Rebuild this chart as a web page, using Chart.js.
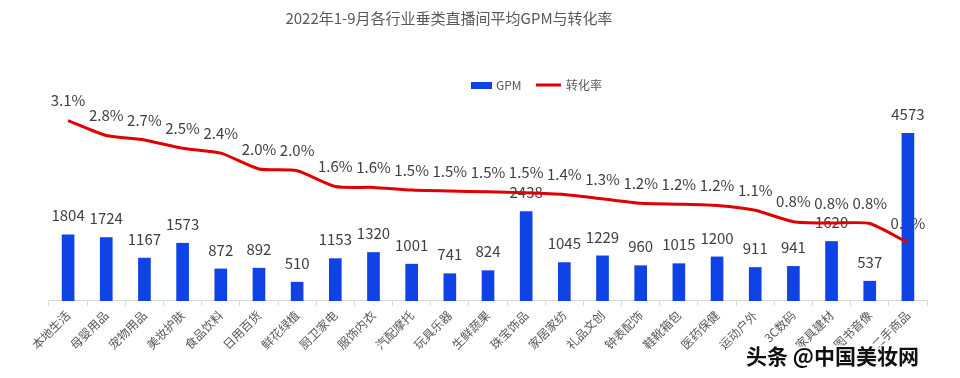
<!DOCTYPE html>
<html>
<head>
<meta charset="utf-8">
<script src="https://cdn.jsdelivr.net/npm/chart.js@4"></script>
<style>
  html, body { margin: 0; padding: 0; background: #fff; }
  #wrap { position: relative; width: 960px; height: 378px; }
</style>
</head>
<body>
<div id="wrap"><canvas id="chart"></canvas></div>
<script>
const categories = ['本地生活', '母婴用品', '宠物用品', '美妆护肤', '食品饮料', '日用百货', '鲜花绿植', '厨卫家电', '服饰内衣', '汽配摩托', '玩具乐器', '生鲜蔬果', '珠宝饰品', '家居家纺', '礼品文创', '钟表配饰', '鞋靴箱包', '医药保健', '运动户外', '3C数码', '家具建材', '图书音像', '二手商品'];
const gpm = [1804, 1724, 1167, 1573, 872, 892, 510, 1153, 1320, 1001, 741, 824, 2438, 1045, 1229, 960, 1015, 1200, 911, 941, 1620, 537, 4573];
const rate = [3.1, 2.76, 2.66, 2.47, 2.36, 2.0, 1.96, 1.6, 1.58, 1.52, 1.5, 1.48, 1.46, 1.42, 1.32, 1.22, 1.2, 1.17, 1.06, 0.8, 0.77, 0.76, 0.32];

const titleText = '2022年1-9月各行业垂类直播间平均GPM与转化率';
const labelFont = '15px "Noto Sans CJK SC", "Noto Sans", sans-serif';

// value labels go under the marks, like in the original
const valueLabels = {
    id: 'valueLabels',
    beforeDatasetsDraw(chart) {
        const ctx = chart.ctx;
        ctx.save();
        ctx.font = labelFont;
        ctx.fillStyle = '#404040';
        ctx.textAlign = 'center';
        ctx.textBaseline = 'middle';
        chart.getDatasetMeta(0).data.forEach((bar, i) => {
            ctx.fillText(String(gpm[i]), bar.x, bar.y - 19);
        });
        chart.getDatasetMeta(1).data.forEach((pt, i) => {
            ctx.fillText(rate[i].toFixed(1) + '%', pt.x, pt.y - 20);
        });
        ctx.restore();
    },
    afterDraw(chart) {
        const ctx = chart.ctx;
        ctx.save();
        // title, a bit left of centre as in the original
        ctx.font = '15px "Noto Sans CJK SC", sans-serif';
        ctx.fillStyle = '#595959';
        ctx.textAlign = 'center';
        ctx.textBaseline = 'middle';
        ctx.fillText(titleText, 449, 18);
        // legend
        ctx.textAlign = 'left';
        ctx.font = '12px "Noto Sans CJK SC", sans-serif';
        ctx.fillStyle = '#1043e6';
        ctx.fillRect(471, 82, 21, 7);
        ctx.fillStyle = '#595959';
        ctx.fillText('GPM', 496, 85);
        ctx.strokeStyle = '#e00000';
        ctx.lineWidth = 3;
        ctx.beginPath();
        ctx.moveTo(536, 85);
        ctx.lineTo(561, 85);
        ctx.stroke();
        ctx.fillText('转化率', 566, 85);
        // source mark
        ctx.font = 'bold 21px "Noto Sans CJK SC", sans-serif';
        ctx.lineWidth = 3;
        ctx.strokeStyle = '#ffffff';
        ctx.strokeText('头条 @中国美妆网', 746, 356);
        ctx.fillStyle = '#111111';
        ctx.fillText('头条 @中国美妆网', 746, 356);
        ctx.restore();
    }
};

new Chart(document.getElementById('chart'), {
    type: 'bar',
    data: {
        labels: categories,
        datasets: [
            {
                label: 'GPM',
                data: gpm,
                backgroundColor: '#1043e6',
                barThickness: 12,
                yAxisID: 'y',
                order: 2
            },
            {
                type: 'line',
                label: '转化率',
                data: rate,
                borderColor: '#e00000',
                borderWidth: 3,
                pointRadius: 0,
                tension: 0.2,
                yAxisID: 'y1',
                order: 1
            }
        ]
    },
    options: {
        responsive: true,
        maintainAspectRatio: false,
        animation: false,
        layout: { padding: { left: 49, right: 33, top: 81, bottom: 24 } },
        plugins: {
            legend: { display: false },
            tooltip: { enabled: false },
            title: { display: false }
        },
        scales: {
            x: {
                grid: { display: true, drawOnChartArea: false, color: '#d9d9d9', tickLength: 5, offset: true },
                border: { color: '#d9d9d9' },
                ticks: {
                    color: '#595959',
                    font: { size: 12, family: '"Noto Sans CJK SC", sans-serif' },
                    minRotation: 45,
                    maxRotation: 45,
                    padding: 2
                }
            },
            y: { display: false, min: 0, max: 6000 },
            y1: { display: false, min: -1, max: 4 }
        }
    },
    plugins: [valueLabels]
});
</script>
</body>
</html>
